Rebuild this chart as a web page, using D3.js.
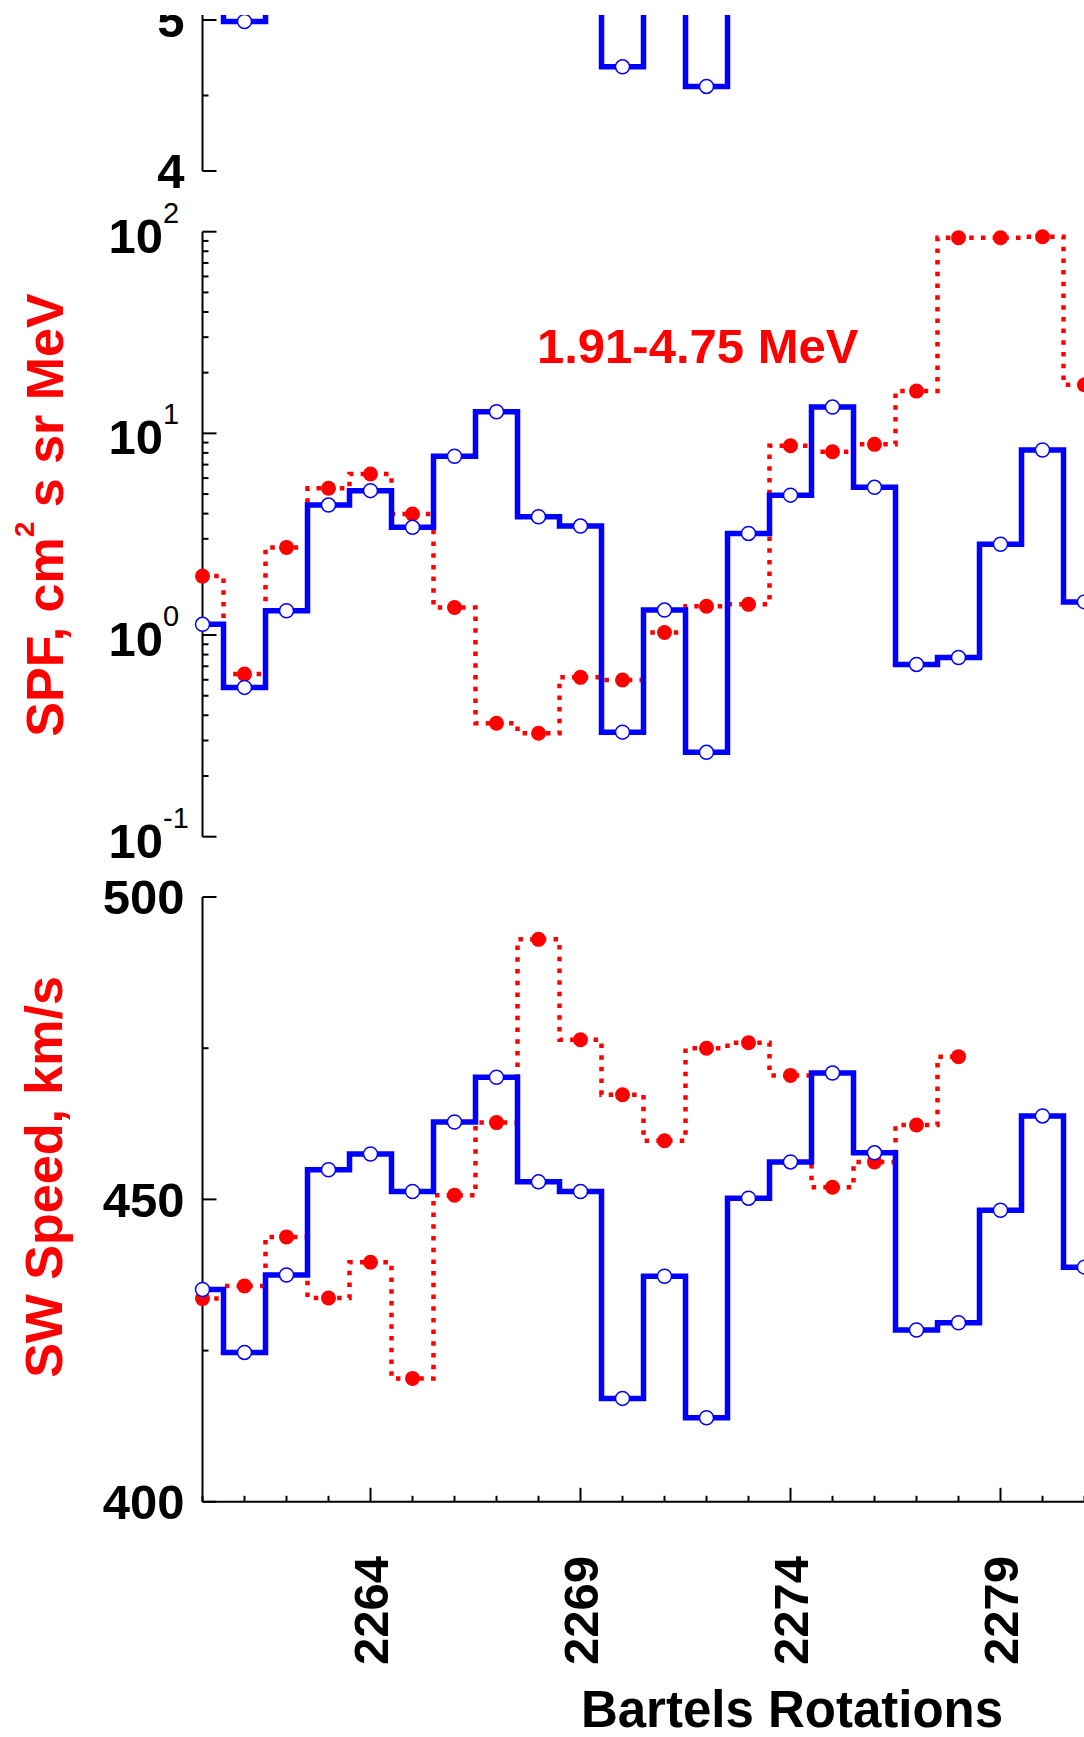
<!DOCTYPE html>
<html>
<head>
<meta charset="utf-8">
<script src="https://cdn.jsdelivr.net/npm/d3@7"></script>
<style>
  body { margin: 0; background: #fff; }
  text { font-family: Arial, "Liberation Sans", sans-serif; font-weight: bold; }
</style>
</head>
<body>
<div id="chart"></div>
<script>
// Bartels rotation numbers
const rotations = [2260, 2261, 2262, 2263, 2264, 2265, 2266, 2267, 2268, 2269, 2270,
  2271, 2272, 2273, 2274, 2275, 2276, 2277, 2278, 2279, 2280, 2281];

// upper panel (only the low values show, the rest is above the cut)
const topBlue = [5.4, 4.99, 5.3, 5.6, 5.7, 5.5, 5.9, 6.2, 5.6, 5.5, 4.69,
  5.3, 4.56, 5.5, 5.6, 6.2, 5.7, 5.15, 5.2, 5.4, 5.9, 5.35];

// SPF, 1.91-4.75 MeV
const spfBlue = [1.13, 0.55, 1.32, 4.41, 5.2, 3.42, 7.7, 12.8, 3.86, 3.47, 0.33,
  1.33, 0.262, 3.19, 4.94, 13.5, 5.4, 0.715, 0.774, 2.82, 8.27, 1.46];
const spfRed = [1.96, 0.64, 2.72, 5.34, 6.29, 3.98, 1.37, 0.365, 0.326, 0.617, 0.598,
  1.03, 1.39, 1.42, 8.68, 8.11, 8.82, 16.2, 93.3, 93.3, 94.4, 17.4];

// solar wind speed, km/s
const speedBlue = [435.1, 424.7, 437.5, 454.9, 457.5, 451.3, 462.8, 470.2, 452.9, 451.3, 417.1,
  437.3, 413.9, 450.2, 456.2, 470.9, 457.7, 428.4, 429.6, 448.2, 463.8, 438.8];
const speedRed = [433.6, 435.7, 443.8, 433.7, 439.6, 420.4, 450.7, 462.7, 493.0, 476.4, 467.3,
  459.7, 475.0, 475.9, 470.5, 452.0, 456.2, 462.3, 473.6];

// ticks
const xMajorTicks = [2264, 2269, 2274, 2279];
const topMajor = [4, 5];
const topMinor = [4.5];
const spfMajor = [0.1, 1, 10, 100];
const spfExponents = ["-1", "0", "1", "2"];
const speedMajor = [400, 450, 500];
const speedMinor = [425, 475];

let w = 1084;
let h = 1737;
let axisX = 202.5;
let cutTop = 15;

let x = d3.scaleLinear().domain([2260, 2281]).range([axisX, 1084.5]);

let yTop = d3.scaleLinear().domain([4, 5]).range([171, 20]);
let ySpf = d3.scaleLog().domain([0.1, 100]).range([836.7, 231.7]);
let ySpeed = d3.scaleLinear().domain([400, 500]).range([1501.8, 897]);

let svg = d3
  .select("#chart")
  .append("svg")
  .attr("width", w)
  .attr("height", h);

svg.append("rect").attr("width", w).attr("height", h).attr("fill", "#fff");

svg
  .append("defs")
  .append("clipPath")
  .attr("id", "cut")
  .append("rect")
  .attr("x", 0)
  .attr("y", cutTop)
  .attr("width", w)
  .attr("height", h - cutTop);

let g = svg.append("g").attr("clip-path", "url(#cut)");

function yAxis(y, major, minor, top, bottom, labels) {
  let ax = g.append("g").attr("transform", `translate(${axisX},0)`);

  ax.append("line")
    .attr("y1", top)
    .attr("y2", bottom)
    .attr("stroke", "#000")
    .attr("stroke-width", 2);

  ax.selectAll(".major")
    .data(major)
    .enter()
    .append("line")
    .attr("x2", 14)
    .attr("y1", (d) => y(d))
    .attr("y2", (d) => y(d))
    .attr("stroke", "#000")
    .attr("stroke-width", 2);

  ax.selectAll(".minor")
    .data(minor)
    .enter()
    .append("line")
    .attr("x2", 6)
    .attr("y1", (d) => y(d))
    .attr("y2", (d) => y(d))
    .attr("stroke", "#000")
    .attr("stroke-width", 2);

  if (labels) {
    ax.selectAll(".lab")
      .data(major)
      .enter()
      .append("text")
      .attr("x", -18)
      .attr("y", (d) => y(d))
      .attr("dy", "0.35em")
      .attr("text-anchor", "end")
      .attr("font-size", 49)
      .attr("fill", "#000")
      .text((d) => d);
  }
}

// upper panel
yAxis(yTop, topMajor, topMinor, cutTop, 171, true);

// SPF panel, log axis with 10^n labels
let spfMinor = [];
[0.1, 1, 10].forEach(function (dec) {
  for (let k = 2; k <= 9; k++) spfMinor.push(dec * k);
});
yAxis(ySpf, spfMajor, spfMinor, 231.7, 836.7, false);

let spfLab = g.append("g");
spfLab
  .selectAll(".ten")
  .data(spfMajor)
  .enter()
  .append("text")
  .attr("x", 163)
  .attr("y", (d) => ySpf(d) + 21)
  .attr("text-anchor", "end")
  .attr("font-size", 49)
  .text("10");
spfLab
  .selectAll(".exp")
  .data(spfMajor)
  .enter()
  .append("text")
  .attr("x", 163)
  .attr("y", (d) => ySpf(d) - 9)
  .attr("font-size", 29)
  .style("font-weight", "normal")
  .text((d, i) => spfExponents[i]);

// speed panel
yAxis(ySpeed, speedMajor, speedMinor, 897, 1501.8, true);

// x axis at the bottom
let xa = g.append("g");
xa.append("line")
  .attr("x1", axisX)
  .attr("x2", w)
  .attr("y1", ySpeed(400))
  .attr("y2", ySpeed(400))
  .attr("stroke", "#000")
  .attr("stroke-width", 2);

xa.selectAll(".minor")
  .data(rotations)
  .enter()
  .append("line")
  .attr("x1", (d) => x(d))
  .attr("x2", (d) => x(d))
  .attr("y1", ySpeed(400))
  .attr("y2", (d) => ySpeed(400) - (xMajorTicks.includes(d) ? 14 : 6))
  .attr("stroke", "#000")
  .attr("stroke-width", 2);

xa.selectAll(".lab")
  .data(xMajorTicks)
  .enter()
  .append("text")
  .attr("transform", (d) => `translate(${x(d)},1556) rotate(-90)`)
  .attr("dy", "0.35em")
  .attr("text-anchor", "end")
  .attr("font-size", 49)
  .text((d) => d);

g.append("text")
  .attr("x", 792)
  .attr("y", 1727)
  .attr("text-anchor", "middle")
  .attr("font-size", 51)
  .text("Bartels Rotations");

// axis titles
let spfTitle = g
  .append("text")
  .attr("transform", "translate(63,515) rotate(-90)")
  .attr("text-anchor", "middle")
  .attr("font-size", 52)
  .attr("fill", "#f00");
spfTitle.append("tspan").text("SPF, cm");
spfTitle.append("tspan").attr("dy", -29).attr("font-size", 28).text("2");
spfTitle.append("tspan").attr("dy", 29).text(" s sr MeV");

g.append("text")
  .attr("transform", "translate(62,1177) rotate(-90)")
  .attr("text-anchor", "middle")
  .attr("font-size", 52)
  .attr("fill", "#f00")
  .text("SW Speed, km/s");

g.append("text")
  .attr("x", 537)
  .attr("y", 363)
  .attr("font-size", 49)
  .attr("fill", "#f00")
  .text("1.91-4.75 MeV");

// step series
function series(values, y, color) {
  let pts = values.map((v, i) => [rotations[i], v]);
  let line = d3
    .line()
    .x((d) => x(d[0]))
    .y((d) => y(d[1]))
    .curve(d3.curveStep);

  let s = g.append("g");
  if (color === "red") {
    s.append("path")
      .attr("d", line(pts))
      .attr("fill", "none")
      .attr("stroke", "#f00")
      .attr("stroke-width", 4.5)
      .attr("stroke-dasharray", "4.5,7.2");
    s.selectAll("circle")
      .data(pts)
      .enter()
      .append("circle")
      .attr("cx", (d) => x(d[0]))
      .attr("cy", (d) => y(d[1]))
      .attr("r", 7.5)
      .attr("fill", "#f00");
  } else {
    s.append("path")
      .attr("d", line(pts))
      .attr("fill", "none")
      .attr("stroke", "#00f")
      .attr("stroke-width", 5.5);
    s.selectAll("circle")
      .data(pts)
      .enter()
      .append("circle")
      .attr("cx", (d) => x(d[0]))
      .attr("cy", (d) => y(d[1]))
      .attr("r", 7)
      .attr("fill", "#fff")
      .attr("stroke", "#00f")
      .attr("stroke-width", 1.5);
  }
}

series(topBlue, yTop, "blue");
series(spfRed, ySpf, "red");
series(spfBlue, ySpf, "blue");
series(speedRed, ySpeed, "red");
series(speedBlue, ySpeed, "blue");
</script>
</body>
</html>
